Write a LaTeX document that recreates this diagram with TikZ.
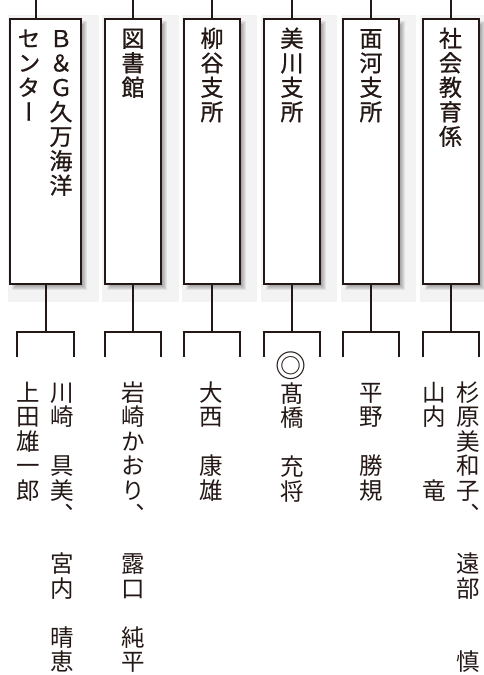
\documentclass[tikz,border=0pt]{standalone}
\usepackage{fontspec}
\newfontfamily\jpfont[RawFeature=+vert]{Noto Sans CJK JP}
\newfontfamily\jplabel[RawFeature=+vert,FakeBold=0.8]{Noto Sans CJK JP}
\definecolor{ink}{HTML}{231815}
\definecolor{panel}{HTML}{F3F3F3}
\newcommand\vcol[5]{%
  \foreach \c [count=\i] in {#5} {%
    \node[#1] (#2-\i) at (#3,{#4+(\i-1)*24.5}) {\c};}}
\newcommand\shbox[4]{%
  \foreach \d in {-6,-5,-4,-3,-2,-1,0,1,2} {%
    \fill[black,opacity=0.065] ({#1+4-\d},{#2+4-\d}) rectangle ({#3+4+\d},{#4+4+\d});}}
\begin{document}
\begin{tikzpicture}[x=1pt,y=-1pt,
  box/.style={draw=ink,line width=2pt,fill=white,inner sep=0pt,minimum height=265pt},
  conn/.style={draw=ink,line width=2pt},
  lbl/.style={font=\jplabel\fontsize{23}{23}\selectfont,text=ink,inner sep=0pt,anchor=base},
  nm/.style={font=\jpfont\fontsize{23.5}{23.5}\selectfont,text=ink,inner sep=0pt,anchor=base}]
\useasboundingbox (0,0) rectangle (484,675);
% light panels
\fill[panel] (8,15) rectangle (99,302);
\fill[panel] (102,15) rectangle (179,302);
\fill[panel] (182,15) rectangle (257,302);
\fill[panel] (261,15) rectangle (337,302);
\fill[panel] (341,15) rectangle (416,302);
\fill[panel] (420,15) rectangle (484,302);
% shadows
\shbox{10}{19}{81}{284}
\shbox{105}{19}{161}{284}
\shbox{184}{19}{240}{284}
\shbox{264}{19}{320}{284}
\shbox{343}{19}{399}{284}
\shbox{422.5}{19}{478.5}{284}
% boxes
\node[box,minimum width=71pt] (b1) at (45.5,151.5) {};
\node[box,minimum width=56pt] (b2) at (133,151.5) {};
\node[box,minimum width=56pt] (b3) at (212,151.5) {};
\node[box,minimum width=56pt] (b4) at (292,151.5) {};
\node[box,minimum width=56pt] (b5) at (371,151.5) {};
\node[box,minimum width=56pt] (b6) at (450.5,151.5) {};
% top connectors
\coordinate (t1) at (36,0);
\draw[conn] (t1) -- (t1 |- b1.north);
\foreach \k in {2,...,6} {
  \coordinate (t\k) at (b\k.north |- 0,0);
  \draw[conn] (t\k) -- (b\k.north);
}
% bottom brackets
\foreach \k/\l/\r in {1/17/74,2/105/161,3/184/240,4/264/320,5/343/399,6/422.5/478.5} {
  \coordinate (j\k) at (b\k.south |- 0,332);
  \coordinate (l\k) at (\l,357);
  \coordinate (r\k) at (\r,357);
  \draw[conn] (b\k.south) -- (j\k);
  \draw[conn] (l\k) |- (j\k) -| (r\k);
}
% box labels
\vcol{lbl}{la}{61}{47}{Ｂ,＆,Ｇ,久,万,海,洋}
\vcol{lbl}{lb}{29}{47}{セ,ン,タ,ー}
\vcol{lbl}{lc}{133}{47}{図,書,館}
\vcol{lbl}{ld}{212}{47}{柳,谷,支,所}
\vcol{lbl}{le}{292}{47}{美,川,支,所}
\vcol{lbl}{lf}{371}{47}{面,河,支,所}
\vcol{lbl}{lg}{450.5}{47}{社,会,教,育,係}
% names
\vcol{nm}{na}{28.5}{401}{上,田,雄,一,郎}
\vcol{nm}{nb}{62.5}{401}{川,崎,　,具,美,、,　,宮,内,　,晴,恵}
\vcol{nm}{nc}{133.5}{401}{岩,崎,か,お,り,、,　,露,口,　,純,平}
\vcol{nm}{nd}{211.5}{401}{大,西,　,康,雄}
\node[nm,anchor=base,font=\jpfont\fontsize{31}{31}\selectfont] (mark) at (291,377) {◎};
\vcol{nm}{ne}{292}{402}{髙,橋,　,充,将}
\vcol{nm}{nf}{371}{401}{平,野,　,勝,規}
\vcol{nm}{ng}{434}{401}{山,内,　,　,竜}
\vcol{nm}{nh}{468}{401}{杉,原,美,和,子,、,　,遠,部,　,　,慎}
\end{tikzpicture}
\end{document}
